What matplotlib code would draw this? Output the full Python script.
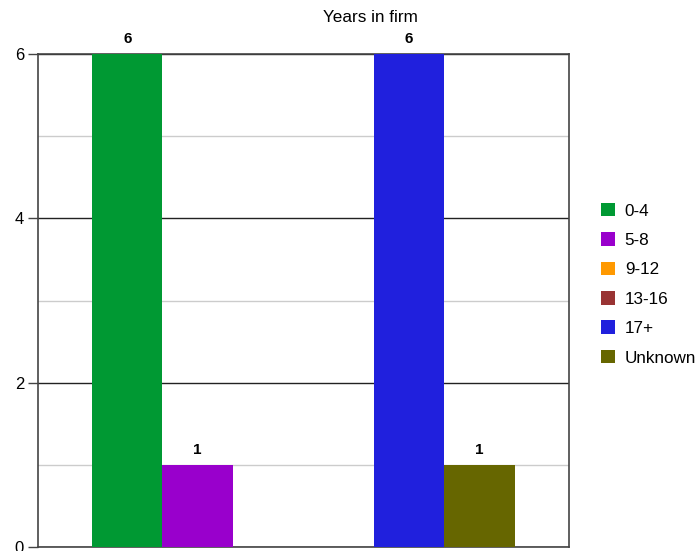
import matplotlib.pyplot as plt
from matplotlib.patches import Patch

plt.rcParams['font.family'] = ['Liberation Sans', 'DejaVu Sans']

# series and values per group
series = ['0-4', '5-8', '9-12', '13-16', '17+', 'Unknown']
colors = ['#009933', '#9900cc', '#ff9900', '#993333', '#2020dd', '#666600']
group_a = [6, 1, 0, 0, 0, 0]
group_b = [0, 0, 0, 0, 6, 1]
groups = [group_a, group_b]
group_start = [0, 4]

fig = plt.figure(figsize=(6.99, 5.51), dpi=100)
ax = fig.add_axes([38 / 699, 1 - 547 / 551, 531 / 699, 493 / 551])

for start, vals in zip(group_start, groups):
    x = start
    for val, col in zip(vals, colors):
        if val == 0:
            continue
        ax.bar(x, val, width=1.0, align='edge', color=col, zorder=3)
        ax.text(x + 0.5, val + 0.1, str(val), ha='center', va='bottom',
                fontsize=11, fontweight='bold', zorder=4)
        x += 1

ax.set_xlim(-0.766, 6.77)
ax.set_ylim(0, 6)
ax.set_yticks([0, 2, 4, 6])
ax.set_yticks([1, 3, 5], minor=True)
ax.set_xticks([])
ax.grid(True, which='major', axis='y', color='#222222', linewidth=1.0, zorder=1)
ax.grid(True, which='minor', axis='y', color='#cccccc', linewidth=1.0, zorder=1)
ax.tick_params(axis='y', which='major', length=7, width=1, color='#444444',
               labelsize=12, pad=3)
ax.tick_params(axis='y', which='minor', length=0)
for sp in ax.spines.values():
    sp.set_color('#444444')
    sp.set_linewidth(1.2)

fig.text(370 / 699, 1 - 18 / 551, 'Years in firm', ha='center', va='center',
         fontsize=12.3)

handles = [Patch(facecolor=c, edgecolor='none', label=s) for s, c in zip(series, colors)]
fig.legend(handles=handles, loc='upper left', bbox_to_anchor=(594 / 699, 1 - 196 / 551),
           frameon=False, fontsize=12.3, handlelength=0.85, handleheight=0.85,
           handletextpad=0.55, labelspacing=0.8, borderaxespad=0)

fig.savefig('out.png', dpi=100)
